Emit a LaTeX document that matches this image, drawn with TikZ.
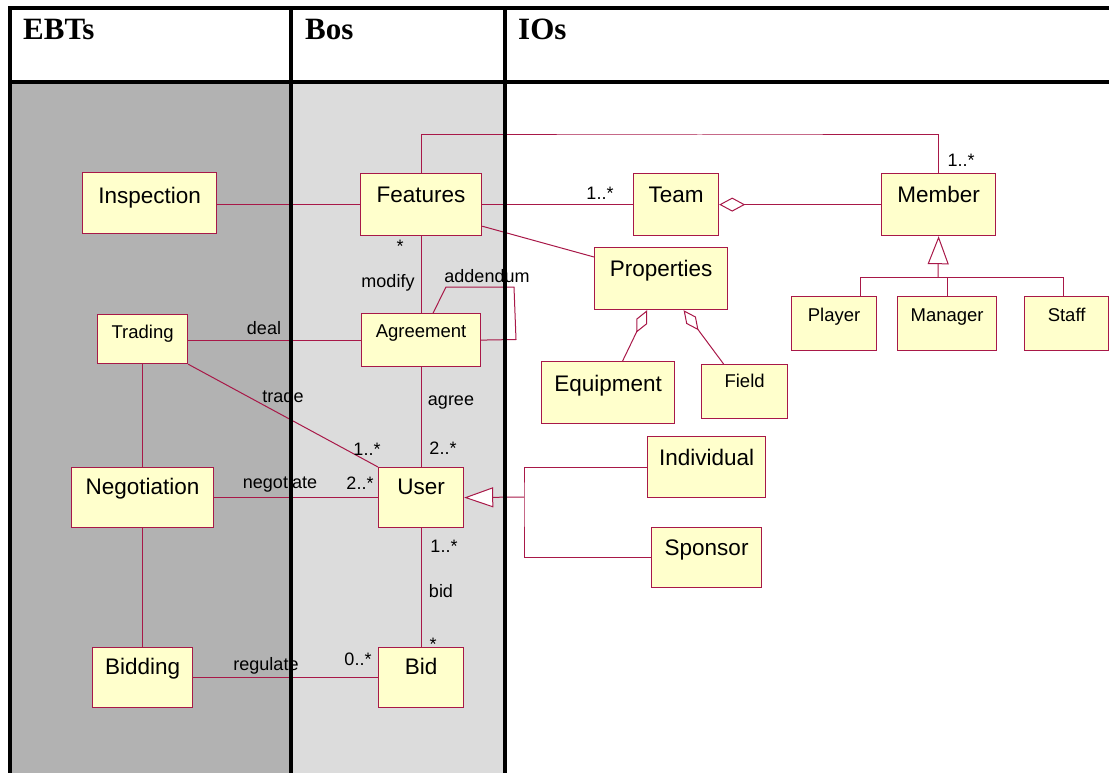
\documentclass[tikz,border=0pt]{standalone}
\usepackage{fontspec}
\setmainfont{Liberation Sans}
\newfontfamily\headfont{Liberation Serif}
\usetikzlibrary{arrows.meta,calc}
\definecolor{umlline}{RGB}{168,24,72}
\definecolor{umlfill}{RGB}{255,255,204}
\definecolor{ebtgrey}{RGB}{178,178,178}
\definecolor{bosgrey}{RGB}{220,220,220}
\pgfdeclarelayer{bg}
\pgfdeclarelayer{fg}
\pgfsetlayers{bg,main,fg}

\begin{document}
\begin{tikzpicture}[x=1pt,y=-1pt,
  cls/.style n args={3}{draw=umlline, fill=umlfill, line width=1.2pt,
    anchor=north west, inner sep=0pt, minimum width=#1,
    text height=#2, text depth=#3},
  big/.style={font=\fontsize{22.5}{26}\selectfont},
  small/.style={font=\fontsize{18.5}{22}\selectfont},
  lab/.style={font=\fontsize{18}{21}\selectfont, inner sep=0pt},
  assoc/.style={draw=umlline, line width=1pt},
  frame/.style={draw=black, line width=4pt},
  head/.style={font=\headfont\bfseries\fontsize{31}{36}\selectfont,
    anchor=base west, inner sep=0pt}]

\useasboundingbox (0,0) rectangle (1109,773);

% ---- classes ----
\node[cls={134pt}{31pt}{30pt}, big]     (insp)    at (82,172)   {Inspection};
\node[cls={121pt}{29pt}{33pt}, big]     (feat)    at (360,173)  {Features};
\node[cls={85pt}{29pt}{33pt}, big]      (team)    at (633,173)  {Team};
\node[cls={114pt}{29pt}{33pt}, big]     (member)  at (881,173)  {Member};
\node[cls={133pt}{29pt}{33pt}, big]     (prop)    at (594,247)  {Properties};
\node[cls={85pt}{24.6pt}{29.4pt}, small] (play)   at (791,296)  {Player};
\node[cls={99pt}{24.6pt}{29.4pt}, small] (mana)   at (897,296)  {Manager};
\node[cls={84pt}{24.6pt}{29.4pt}, small] (staff)  at (1024,296) {Staff};
\node[cls={90pt}{23.6pt}{25.4pt}, small] (trad)   at (97,314)   {Trading};
\node[cls={119pt}{23.6pt}{29.4pt}, small] (agr)   at (361,313)  {Agreement};
\node[cls={133pt}{30pt}{32pt}, big]     (equip)   at (541,361)  {Equipment};
\node[cls={86pt}{22.6pt}{31.4pt}, small] (field)  at (701,364)  {Field};
\node[cls={118pt}{29pt}{32pt}, big]     (indiv)   at (647,436)  {Individual};
\node[cls={142pt}{27pt}{33pt}, big]     (nego)    at (71,467)   {Negotiation};
\node[cls={85pt}{27pt}{33pt}, big]      (user)    at (378,467)  {User};
\node[cls={110pt}{28pt}{32pt}, big]     (spons)   at (651,527)  {Sponsor};
\node[cls={100pt}{27pt}{33pt}, big]     (bidding) at (92,647)   {Bidding};
\node[cls={85pt}{27pt}{33pt}, big]      (bid)     at (378,647)  {Bid};

% ---- route points ----
\coordinate (topbar) at (700,135);
\coordinate (loopA)  at (446,287);
\coordinate (loopB)  at (514,287);
\coordinate (loopC)  at (516,339.5);
\coordinate (ugen)   at (524,497);
\coordinate (mgen)   at (938,277);
\coordinate (pdrop)  at (860,277);
\coordinate (sdrop)  at (1063,277);

\begin{pgfonlayer}{bg}
  % column shading
  \fill[ebtgrey] (12,84) rectangle (289,773);
  \fill[bosgrey] (293,84) rectangle (503,773);
  % associations
  \draw[assoc] (insp.east |- feat.west) -- (feat.west);
  \draw[assoc] (feat.east) -- (team.west);
  \draw[assoc, -{Diamond[fill=white,length=26pt,width=14pt]}] (member.west) -- (team.east);
  \draw[assoc] (feat.north) |- (topbar) -| (member.north);
  \draw[assoc] ([yshift=10pt]feat.south east) -- ([yshift=-10pt]prop.north west);
  \draw[assoc] (feat.south) -- (agr.north);
  \draw[assoc] ([xshift=12pt]agr.north) -- (loopA) -- (loopB) -- (loopC) -- (agr.east);
  \draw[assoc] (agr.west -| trad.east) -- (agr.west);
  \draw[assoc] (trad.south east) -- (user.north west);
  \draw[assoc] (trad.south) -- (nego.north);
  \draw[assoc] (agr.south) -- (user.north);
  \draw[assoc] (nego.east) -- (user.west);
  \draw[assoc] (nego.south) -- (bidding.north);
  \draw[assoc] (user.south) -- (bid.north);
  \draw[assoc] (bidding.east) -- (bid.west);
  % aggregations of Properties
  \draw[assoc, -{Diamond[fill=white,length=25pt,width=12pt]}]
    ([xshift=14.5pt]equip.north) -- ([xshift=-14pt]prop.south);
  \draw[assoc, -{Diamond[fill=white,length=25pt,width=12pt]}]
    ([xshift=-21pt]field.north) -- ([xshift=22.5pt]prop.south);
  % generalisation of User
  \draw[assoc, -{Triangle[fill=white,length=29pt,width=20pt]}] (ugen) -- (user.east);
  \draw[assoc] (indiv.west) -| (ugen) |- (spons.west);
  % generalisation of Member
  \draw[assoc, -{Triangle[fill=white,length=28pt,width=21pt]}] (mgen) -- (member.south);
  \draw[assoc] (pdrop) -- (sdrop);
  \draw[assoc] (pdrop) -- (pdrop |- play.north);
  \draw[assoc] (mana.north |- mgen) -- (mana.north);
  \draw[assoc] (sdrop) -- (sdrop |- staff.north);
\end{pgfonlayer}

% ---- role names and multiplicities ----
\node[lab] (mTeam)   at (600,193) {1..*};
\node[lab] (mMember) at (961,160) {1..*};
\node[lab] (mFeat)   at (400,246) {*};
\node[lab] (rModify) at (388,283) {modify};
\node[lab] (rAdd)    at (487,276) {addendum};
\node[lab] (rDeal)   at (264,328) {deal};
\node[lab] (rTrade)  at (283,396) {trade};
\node[lab] (mTrade)  at (367,449) {1..*};
\node[lab] (rAgree)  at (451,403) {agree};
\node[lab] (mAgree)  at (443,448) {2..*};
\node[lab] (rNego)   at (280,484) {negotiate};
\node[lab] (mNego)   at (360,483) {2..*};
\node[lab] (mUser)   at (444,546) {1..*};
\node[lab] (rBid)    at (441,591) {bid};
\node[lab] (mBid)    at (433,644) {*};
\node[lab] (rReg)    at (266,666) {regulate};
\node[lab] (mReg)    at (358,659) {0..*};

% ---- table frame and headings ----
\node[head] (hEBT) at (23,39.5)  {EBTs};
\node[head] (hBos) at (305,39.5) {Bos};
\node[head] (hIOs) at (518,39.5) {IOs};
\begin{pgfonlayer}{fg}
  \draw[frame, line join=miter] (1109,8) -- (10,8) -- (10,773);
  \draw[frame] (10,82.5) -- (1109,82.5);
  \draw[frame] (291,8) -- (291,773);
  \draw[frame] (505,8) -- (505,773);
\end{pgfonlayer}
\end{tikzpicture}
\end{document}
